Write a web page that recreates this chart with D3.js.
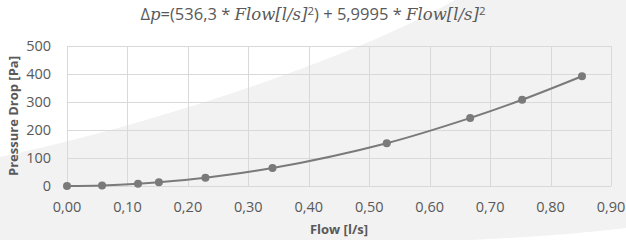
<!DOCTYPE html>
<html>
<head>
<meta charset="utf-8">
<script src="https://cdn.jsdelivr.net/npm/d3@7"></script>
<style>
  body { margin: 0; background: #fff; }
  svg { display: block; }
  text { font-family: "Open Sans", "Noto Sans", sans-serif; fill: #595959; }
</style>
</head>
<body>
<svg id="chart"></svg>
<script>
var width = 626, height = 240;

// data
var flow = [0.0, 0.058, 0.1175, 0.152, 0.229, 0.340, 0.529, 0.667, 0.753, 0.852];
var pressure = [0, 2.2, 8.1, 13.3, 29.5, 64, 153, 243, 308, 392];
var xTicks = [0, 0.1, 0.2, 0.3, 0.4, 0.5, 0.6, 0.7, 0.8, 0.9];
var yTicks = [0, 100, 200, 300, 400, 500];

var svg = d3.select('#chart').attr('width', width).attr('height', height);

// background with the light swooshes
svg.append('rect').attr('width', width).attr('height', height).attr('fill', '#f2f2f2');
svg.append('path')
	.attr('d', 'M0,0 L455,0 C350,60 150,125 0,157 Z')
	.attr('fill', '#ffffff');
svg.append('path')
	.attr('d', 'M470,240 Q560,236 626,228 L626,240 Z')
	.attr('fill', '#ffffff');

var x = d3.scaleLinear().domain([0, 0.9]).range([67, 611]);
var y = d3.scaleLinear().domain([0, 500]).range([186, 46]);

// grid
svg.append('g').selectAll('line.h')
	.data(yTicks).enter().append('line')
	.attr('x1', x(0)).attr('x2', x(0.9))
	.attr('y1', function(d) { return y(d) + 0.5; })
	.attr('y2', function(d) { return y(d) + 0.5; })
	.attr('stroke', '#d9d9d9').attr('stroke-width', 1);

svg.append('g').selectAll('line.v')
	.data(xTicks).enter().append('line')
	.attr('x1', function(d) { return Math.round(x(d)) + 0.5; })
	.attr('x2', function(d) { return Math.round(x(d)) + 0.5; })
	.attr('y1', y(500)).attr('y2', y(0))
	.attr('stroke', '#d9d9d9').attr('stroke-width', 1);

// tick labels
var fmt = function(d) { return d3.format('.2f')(d).replace('.', ','); };

svg.append('g').selectAll('text')
	.data(xTicks).enter().append('text')
	.attr('x', function(d) { return x(d); })
	.attr('y', 212)
	.attr('text-anchor', 'middle')
	.style('font-size', '14.5px')
	.text(fmt);

svg.append('g').selectAll('text')
	.data(yTicks).enter().append('text')
	.attr('x', 51)
	.attr('y', function(d) { return y(d) + 5; })
	.attr('text-anchor', 'end')
	.style('font-size', '14.5px')
	.text(function(d) { return d; });

// axis titles
svg.append('text')
	.attr('x', 339).attr('y', 234)
	.attr('text-anchor', 'middle')
	.style('font-size', '13px').style('font-weight', 'bold')
	.text('Flow [l/s]');

svg.append('text')
	.attr('transform', 'translate(18,116) rotate(-90)')
	.attr('text-anchor', 'middle')
	.style('font-size', '13px').style('font-weight', 'bold')
	.text('Pressure Drop [Pa]');

// title
var title = svg.append('text')
	.attr('x', 313).attr('y', 20)
	.attr('text-anchor', 'middle')
	.style('font-size', '16.5px');
title.append('tspan').text('Δ');
title.append('tspan').style('font-family', '"DejaVu Serif", serif').style('font-style', 'italic').text('p');
title.append('tspan').text('=(536,3 * ');
title.append('tspan').style('font-family', '"DejaVu Serif", serif').style('font-style', 'italic').text('Flow[l/s]');
title.append('tspan').style('font-size', '11.5px').attr('dy', -5).text('2');
title.append('tspan').attr('dy', 5).text(') + 5,9995 * ');
title.append('tspan').style('font-family', '"DejaVu Serif", serif').style('font-style', 'italic').text('Flow[l/s]');
title.append('tspan').style('font-size', '11.5px').attr('dy', -5).text('2');

// series
var pts = flow.map(function(f, i) { return [f, pressure[i]]; });

var line = d3.line()
	.x(function(d) { return x(d[0]); })
	.y(function(d) { return y(d[1]); })
	.curve(d3.curveCatmullRom.alpha(0.5));

svg.append('path')
	.datum(pts)
	.attr('d', line)
	.attr('fill', 'none')
	.attr('stroke', '#7a7a7a')
	.attr('stroke-width', 2);

svg.append('g').selectAll('circle')
	.data(pts).enter().append('circle')
	.attr('cx', function(d) { return x(d[0]); })
	.attr('cy', function(d) { return y(d[1]); })
	.attr('r', 4)
	.attr('fill', '#7a7a7a');
</script>
</body>
</html>
